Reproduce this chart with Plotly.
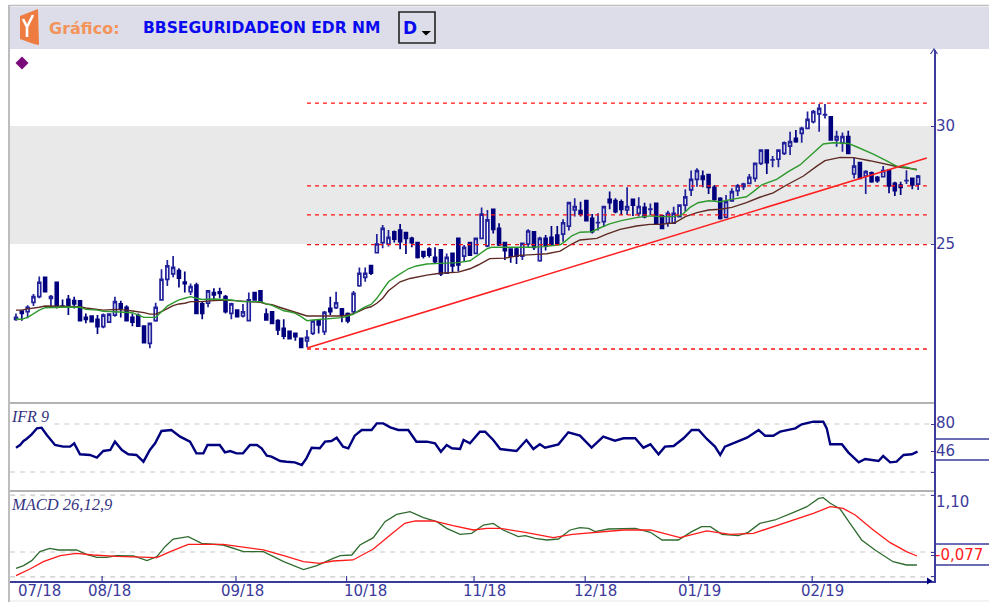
import plotly.graph_objects as go

# ---------- daily candles ----------
opens = [21.81,22.16,22.13,22.53,22.77,23.59,22.70,23.38,22.37,22.65,22.60,22.59,21.89,21.95,21.81,21.50,21.69,21.99,22.46,22.32,
21.89,21.98,21.52,20.79,21.75,22.63,23.50,23.73,23.87,23.39,22.98,23.26,22.46,22.49,22.94,22.97,22.77,22.06,22.20,21.95,
21.75,22.94,23.01,22.03,22.12,21.75,21.43,21.30,21.21,21.00,20.89,21.21,21.74,21.29,22.27,22.30,22.25,22.05,22.13,23.23,
23.59,24.08,24.63,25.06,25.00,25.52,25.59,25.48,25.24,25.06,24.68,24.78,24.43,24.75,23.76,24.60,25.24,24.49,25.06,24.60,
25.24,24.92,26.47,25.66,25.06,24.78,24.78,24.49,25.00,25.52,24.29,25.24,25.28,25.38,25.42,25.76,26.44,26.41,26.84,26.09,
25.90,25.95,26.89,26.84,26.79,26.44,26.89,26.30,26.55,26.47,26.72,26.19,25.88,25.88,26.16,26.65,27.29,27.74,27.88,27.94,
27.40,26.93,26.13,26.83,27.26,27.43,27.57,27.78,28.42,28.98,28.56,28.59,28.84,29.15,29.48,29.69,29.90,30.18,30.51,30.47,
30.39,29.41,29.29,29.55,27.97,28.45,27.88,28.02,27.82,27.85,28.13,27.57,27.50,27.68,27.78,27.54]
highs = [22.06,22.20,22.41,22.88,23.62,23.62,22.84,23.38,22.65,22.84,22.77,22.59,22.06,21.95,21.99,22.06,22.06,22.77,22.60,22.40,
22.06,22.06,21.52,21.67,22.51,23.93,24.32,24.49,23.97,23.83,23.33,23.36,22.56,23.02,23.12,23.15,22.84,22.51,22.20,22.46,
22.94,22.94,23.01,22.27,22.13,21.81,21.81,21.33,21.21,21.04,21.36,21.78,21.78,22.16,22.77,22.98,22.25,22.10,23.01,24.00,
24.00,24.11,25.42,25.81,25.59,25.57,25.85,25.48,25.31,25.06,24.68,24.86,24.86,24.75,24.60,24.60,25.24,24.96,25.06,25.24,
26.55,26.44,26.47,25.88,25.06,24.78,24.86,25.06,25.62,25.55,25.31,25.38,25.76,25.76,26.05,26.75,26.94,26.79,26.84,26.27,
26.30,26.58,27.22,26.94,26.89,27.40,26.89,26.98,26.75,26.72,26.72,26.23,26.41,26.58,26.65,27.32,28.11,28.21,28.11,27.94,
27.50,26.98,27.08,27.36,27.54,27.60,27.97,28.45,29.01,29.01,28.73,29.01,29.34,29.76,29.83,29.97,30.61,30.68,30.93,30.93,
30.39,29.80,29.72,29.80,28.67,28.45,28.13,28.07,27.88,28.30,28.16,27.64,27.64,28.13,27.82,27.92]
lows = [21.75,21.75,21.85,22.37,22.70,22.95,22.32,22.27,22.32,21.99,22.27,21.75,21.64,21.67,21.19,21.43,21.67,21.92,21.89,21.72,
21.52,21.50,20.79,20.58,21.71,22.60,23.22,23.59,23.16,22.94,22.84,22.03,21.81,22.32,22.63,22.70,22.06,21.81,21.92,21.89,
21.75,22.60,22.56,21.75,21.61,21.14,20.96,20.96,20.90,20.62,20.62,21.14,21.21,21.14,21.99,22.25,21.68,21.64,22.06,23.19,
23.40,23.69,24.60,24.82,24.89,25.06,24.78,24.58,24.86,24.39,24.39,24.43,24.18,23.64,23.73,23.81,23.83,24.25,24.53,24.58,
25.20,24.86,25.45,24.92,24.32,24.21,24.15,24.32,24.86,24.75,24.25,24.72,24.92,24.96,25.10,25.57,26.16,26.16,25.95,25.45,
25.57,25.73,26.47,26.30,26.23,26.23,26.19,26.16,26.09,26.23,25.81,25.62,25.73,25.85,26.13,26.37,27.03,27.43,27.40,27.12,
26.83,26.04,26.09,26.79,27.03,27.29,27.54,27.64,28.35,27.97,28.25,28.25,28.77,28.77,29.29,29.29,29.86,30.11,29.76,30.32,
29.38,29.12,28.91,28.81,27.78,27.74,27.12,27.60,27.60,27.82,27.15,27.03,27.08,27.54,27.32,27.29]
closes = [21.89,22.06,22.32,22.77,23.38,22.98,22.77,22.37,22.32,22.32,22.46,21.75,21.81,21.71,21.50,21.99,22.03,22.56,22.27,21.75,
21.69,21.52,20.82,21.64,22.32,23.50,24.07,24.01,23.55,23.32,23.19,22.06,22.06,23.01,22.84,22.91,22.13,22.46,21.92,22.13,
22.63,22.63,22.56,21.78,21.64,21.36,21.10,20.99,21.07,20.62,21.04,21.74,21.57,22.10,22.13,22.51,21.99,21.74,22.91,23.76,
23.76,23.76,25.00,25.66,25.28,25.21,25.10,25.24,25.06,24.43,24.49,24.53,24.25,23.73,24.43,24.07,24.11,24.86,24.53,25.24,
26.27,26.02,25.62,24.96,24.72,24.49,24.49,25.03,25.55,24.86,25.24,24.92,24.96,25.03,25.90,26.75,26.58,26.27,25.99,25.52,
25.91,26.58,26.75,26.37,26.47,26.58,26.65,26.58,26.16,26.48,25.88,25.66,26.30,26.30,26.65,27.00,27.74,28.11,27.74,27.40,
26.89,26.09,26.79,27.22,27.46,27.54,27.82,28.42,28.98,28.45,28.57,28.98,29.29,29.34,29.34,29.90,30.28,30.61,30.75,30.48,
29.41,29.55,29.55,28.84,28.30,27.78,28.07,27.64,27.68,28.11,27.46,27.26,27.40,27.69,27.50,27.88]
days = list(range(len(opens)))

# ---------- moving averages ----------
fast_ma_days = [0,1,2,3,4,5,7,9,11,12,14,15,17,19,20,21,22,23,24,25,26,27,28,29,30,31,32,34,36,37,38,39,42,43,44,45,46,47,48,49,50,51,53,54,56,57,58,59,60,61,62,63,64,
65.4,67.4,68.8,70.6,72.8,76,78,79.4,80.9,81.7,84,86.6,88.3,90.6,93.5,94.3,95.5,96.9,98.9,100.6,102,104,106.6,108.9,110.7,112.9,114.4,115.8,117.2,119,121,123,125.5,126.7,128.1,130.7,132.7,134.7,136.7,138.7,140.4,143,144.4,147.3,149.6,151.3,153,154.8]
fast_ma = [21.81,21.81,21.89,22.06,22.20,22.30,22.32,22.33,22.32,22.23,22.20,22.15,22.13,22.12,22.09,21.99,21.89,21.89,21.89,22.13,22.37,22.51,22.63,22.70,22.77,22.70,22.65,22.67,22.65,22.63,22.59,22.56,22.56,22.46,22.40,22.27,22.17,22.13,22.06,21.92,21.75,21.78,21.81,21.85,21.88,21.95,22.03,22.20,22.34,22.44,22.70,23.05,23.40,
23.64,23.95,24.07,24.15,24.18,24.21,24.29,24.53,24.79,24.86,24.86,24.83,24.86,24.89,24.97,25.10,25.35,25.50,25.52,25.71,25.85,25.99,26.12,26.19,26.16,26.16,26.23,26.55,26.75,26.83,26.79,26.89,27.00,27.22,27.50,27.74,28.07,28.35,28.81,29.24,29.29,29.26,29.12,28.81,28.52,28.30,28.25,28.13]
slow_ma_days = [0,1,2,3,4,5,7,9,11,12,14,15,17,18,19,20,21,22,23,24,25,26,27,28,29,30,32,34,36,38,40,42,43,44,45,46,47,48,49,50,51,53,54,56,57,58,59,60,61,62,63,
64,66,67.7,70.6,72.8,76,78,79.4,81.4,84,86.6,89.5,91.2,93.5,95.5,96.9,99.8,101.5,103.8,106.6,108.9,110.7,113.2,115,117,119,121,123,125.5,127.8,130.1,132.4,135.3,137.6,139,141.6,143.9,146.7,149.6,151.9,154.8]
slow_ma = [22.20,22.20,22.25,22.27,22.32,22.37,22.37,22.37,22.34,22.29,22.25,22.20,22.23,22.23,22.20,22.16,22.13,22.09,22.03,22.03,22.13,22.27,22.39,22.46,22.49,22.56,22.56,22.60,22.63,22.59,22.56,22.53,22.46,22.43,22.34,22.26,22.20,22.13,22.03,21.95,21.95,21.95,21.95,21.95,21.99,22.05,22.16,22.27,22.34,22.49,22.70,
23.02,23.40,23.54,23.68,23.76,23.81,23.95,24.11,24.38,24.40,24.52,24.56,24.59,24.70,25.00,25.17,25.24,25.42,25.62,25.76,25.83,25.83,25.90,26.16,26.33,26.44,26.47,26.55,26.75,26.98,27.17,27.50,27.88,28.30,28.53,28.67,28.66,28.53,28.39,28.25,28.16]

# ---------- drawn levels ----------
level_prices = [30.97, 27.46, 26.23, 24.97, 20.55]
level_days = [50, 156.5]
trend_days = [50, 156.5]
trend_prices = [20.59, 28.64]
band_prices = [25, 30]

# ---------- IFR 9 ----------
ifr_days = [0,0.7,1.3,1.8,2.7,3.6,4.4,5.3,6.7,8.1,9.3,10,11,12.7,13.9,15,16.2,17,18.2,19.3,20.7,21.9,23,23.9,25,26.7,28.2,29.9,31,32.2,32.9,35,35.9,36.8,37.9,39,40.2,41.4,42.2,43.1,43.9,45.4,46.5,47.9,49.1,49.9,50.8,52.2,53.1,54.2,55.1,56.2,57.1,58.2,59.4,61.1,62,63.1,64.3,65.7,67.4,68.8,70.6,72,73,74,74.9,76.3,76.9,78,79.7,80.6,82,83.2,
86,87.7,88.9,90,90.9,93.2,94.9,96.9,98.9,100.9,102.9,104.4,106.4,107.8,109,110.4,111.5,113,114.7,116.1,117.3,118.7,120.1,121,121.8,123.8,125.6,127.6,128.7,130.1,131.3,133.9,135,137,138.7,139.3,139.9,141.9,143,144.8,145.9,148.2,149,150.2,151.3,152.5,153.9,154.9]
ifr = [50.4,53.75,58.75,61.25,67.1,74.6,75.4,66.25,53.75,51.7,51.7,55.8,42.1,41.25,37.9,46.25,47.5,57.9,47.5,42.1,41.25,32.9,47.5,55.8,71.25,72.5,64.2,57.9,43.3,43.3,53.75,53.75,44.6,46.25,43.3,43.3,53.75,53.75,49.6,40.4,39.2,33.75,32.9,32.1,28.75,37.1,50.4,49.6,57.9,58.75,62.9,51.7,49.6,65.4,72.5,72.5,80.8,80.8,75.8,72.5,72.5,57.9,57.9,55.8,45.4,53.75,49.6,48.75,60,55.8,70.4,70.4,60,48.75,
46.25,60,48.75,54.6,50.4,54.6,69.6,65.4,50.4,64.2,59.2,62.1,62.1,50.4,54.6,42.1,51.7,52.5,62.1,72.5,72.5,61.25,51.7,41.25,51.7,57.9,62.9,72.5,65.4,65.4,70.4,74.6,79.6,82.9,82.9,74.6,54.6,54.6,44.6,32.1,36.25,33.75,40,32.1,32.9,41.25,42.1,45.4]

# ---------- MACD 26,12,9 ----------
macd_days = [0,1.3,2.7,4.1,5.8,7.3,10.4,12.1,13.9,15.6,17.3,20.2,22.5,24.2,25.6,27,29.6,31.9,35.6,39.1,42.5,46,49.4,51.7,54.5,55.7,57.7,59.1,61.4,63.4,65.4,67.7,70,72.3,74,76.3,78.3,80.3,82,
83.7,86.3,87.5,89.2,91.2,93.2,95.2,96.9,98.4,99.5,101.8,106.4,109,111,113.8,116.1,117.8,119.3,121.3,124.1,125.8,127.8,130.4,133.6,135.9,137.9,138.7,139.9,141.6,143.3,145.3,147.6,150.7,153,154.8]
macd = [-0.315,-0.264,-0.167,0.007,0.071,0.039,0.039,-0.045,-0.103,-0.103,-0.071,-0.077,-0.167,-0.090,0.103,0.251,0.296,0.167,0.135,0.007,0.007,-0.187,-0.341,-0.264,-0.122,-0.071,-0.058,0.135,0.277,0.586,0.727,0.779,0.663,0.586,0.457,0.341,0.361,0.521,0.553,
0.425,0.296,0.315,0.264,0.232,0.251,0.425,0.470,0.457,0.393,0.444,0.457,0.380,0.232,0.232,0.393,0.489,0.489,0.341,0.315,0.380,0.553,0.618,0.766,0.875,1.036,1.049,0.940,0.830,0.553,0.232,0.039,-0.187,-0.251,-0.251]
signal_days = [0,2.4,4.7,7.6,10.4,13.3,17.3,21.3,24.2,26.5,29.6,35.6,38.5,42.5,46,49.4,52.2,54.5,57.9,61.4,64.3,66.8,68.6,71.7,75.1,78.6,80.9,
83.2,87.5,92.3,95.6,100.3,104.4,109,114.1,118.7,122.7,126.7,130.1,133.6,137,139.9,142.1,144.2,147.3,150.2,153,154.8]
signal = [-0.457,-0.328,-0.187,-0.071,-0.026,-0.058,-0.084,-0.097,-0.109,0.007,0.148,0.148,0.103,0.039,-0.071,-0.187,-0.219,-0.174,-0.154,0.058,0.328,0.553,0.599,0.599,0.508,0.425,0.457,
0.457,0.380,0.277,0.341,0.393,0.425,0.425,0.277,0.406,0.341,0.361,0.489,0.618,0.747,0.875,0.843,0.714,0.425,0.180,0.007,-0.077]

# ---------- ticks and labels ----------
month_labels = ["07/18","08/18","09/18","10/18","11/18","12/18","01/19","02/19"]
month_label_days = [4.1,16.1,39,60,80.5,99.5,117.5,138.6]
month_tick_days = [14.8,37.8,56.8,78.7,97.8,115.6,136.8]
price_ticks = [25, 30]
price_labels = ["25", "30"]
ifr_ticks = [20, 46, 80]
macd_ticks = [-0.48, -0.077, 0, 1.10]
symbol_name = "BBSEGURIDADEON EDR NM"

# ---------- layout geometry and styling ----------
W, H = 989, 602
L, R, T, B = 10, 934, 50, 581
AX = "#3B3B9B"
FONT = "DejaVu Sans"
def px(x): return (x - L) / (R - L)
def py(y): return (B - y) / (B - T)
def dom(y0, y1): return [py(y1), py(y0)]
def path(points):
    return "M" + " L".join(f"{px(a):.5f},{py(b):.5f}" for a, b in points) + " Z"

fig = go.Figure()
fig.add_trace(go.Candlestick(x=days, open=opens, high=highs, low=lows, close=closes, yaxis="y",
    increasing=dict(line=dict(color="#20209A", width=1.7), fillcolor="white"),
    decreasing=dict(line=dict(color="#00007F", width=1.7), fillcolor="#00007F"),
    whiskerwidth=0, hoverinfo="skip"))
fig.add_trace(go.Scatter(x=slow_ma_days, y=slow_ma, mode="lines", line=dict(color="#5C2A22", width=1.4), yaxis="y"))
fig.add_trace(go.Scatter(x=fast_ma_days, y=fast_ma, mode="lines", line=dict(color="#2E9A2E", width=1.4), yaxis="y"))
for lv in level_prices:
    fig.add_trace(go.Scatter(x=level_days, y=[lv, lv], mode="lines", line=dict(color="#FF1010", width=1.3, dash="4px,4px"), yaxis="y"))
fig.add_trace(go.Scatter(x=trend_days, y=trend_prices, mode="lines", line=dict(color="#FF2020", width=1.5), yaxis="y"))

# indicator guide lines
for lv, x0 in [(80, 6.6), (20, -1)]:
    fig.add_trace(go.Scatter(x=[x0, 157.7], y=[lv, lv], mode="lines", line=dict(color="#C8C8C8", width=1.2, dash="5px,5px"), yaxis="y2"))
for lv in [1.10, 0, -0.48]:
    fig.add_trace(go.Scatter(x=[-1, 157.7], y=[lv, lv], mode="lines", line=dict(color="#C8C8C8", width=1.2, dash="5px,5px"), yaxis="y3"))
fig.add_trace(go.Scatter(x=ifr_days, y=ifr, mode="lines", line=dict(color="#00007F", width=2.4), yaxis="y2"))
fig.add_trace(go.Scatter(x=macd_days, y=macd, mode="lines", line=dict(color="#2F6B2F", width=1.3), yaxis="y3"))
fig.add_trace(go.Scatter(x=signal_days, y=signal, mode="lines", line=dict(color="#FF1A1A", width=1.3), yaxis="y3"))
fig.add_trace(go.Scatter(x=month_tick_days, y=[-0.56]*len(month_tick_days), mode="markers", yaxis="y3",
    marker=dict(symbol="line-ns", size=7, line=dict(color=AX, width=1.2))))

shapes = [
    dict(type="rect", xref="paper", yref="y", x0=0, x1=1, y0=band_prices[0], y1=band_prices[1], fillcolor="#E9E9E9", line_width=0, layer="below"),
    dict(type="rect", xref="paper", yref="paper", x0=px(10), x1=px(989), y0=py(49), y1=py(7), fillcolor="#DCDDE8", line_width=0, layer="below"),
    dict(type="line", xref="paper", yref="paper", x0=px(9), x1=px(9), y0=py(5), y1=py(602), line=dict(color="#BDBDBD", width=2)),
    dict(type="line", xref="paper", yref="paper", x0=px(8), x1=px(989), y0=py(5.5), y1=py(5.5), line=dict(color="#BDBDBD", width=1.5)),
    dict(type="line", xref="paper", yref="paper", x0=px(10), x1=px(989), y0=py(601), y1=py(601), line=dict(color="#E6E6E6", width=1)),
    dict(type="line", xref="paper", yref="paper", x0=0, x1=1, y0=py(403), y1=py(403), line=dict(color="#999999", width=1.5)),
    dict(type="line", xref="paper", yref="paper", x0=0, x1=1, y0=py(491), y1=py(491), line=dict(color="#999999", width=1.5)),
    # logo
    dict(type="path", xref="paper", yref="paper", path=path([(20,16),(38,9),(39,45),(34,44),(20,39)]), fillcolor="#EE7B3F", line_width=0),
    dict(type="path", xref="paper", yref="paper", path="M%.5f,%.5f L%.5f,%.5f L%.5f,%.5f L%.5f,%.5f M%.5f,%.5f L%.5f,%.5f" % (px(23),py(19),px(27),py(27),px(27),py(37),px(27),py(27),px(33),py(15),px(27),py(27)), line=dict(color="#FFFFFF", width=2.6)),
    # period selector
    dict(type="rect", xref="paper", yref="paper", x0=px(399), x1=px(435), y0=py(43), y1=py(12), line=dict(color="#222222", width=1.6), fillcolor="rgba(0,0,0,0)"),
    dict(type="path", xref="paper", yref="paper", path=path([(421.5,31),(431,31),(426,35.5)]), fillcolor="#000000", line_width=0),
    # purple marker
    dict(type="path", xref="paper", yref="paper", path=path([(22,56.5),(28.5,63),(22,69.5),(15.5,63)]), fillcolor="#7A0A7A", line_width=0),
    # boxes round the last values
    *[dict(type="line", xref="paper", yref="paper", x0=1, x1=px(989), y0=py(v), y1=py(v), line=dict(color=AX, width=1.5)) for v in (439, 460, 544, 565)],
    # axis arrows
    dict(type="path", xref="paper", yref="paper", path=path([(927,577.5),(932.5,581),(927,584.5)]), fillcolor="#00007F", line_width=0),
    dict(type="path", xref="paper", yref="paper", path="M%.5f,%.5f L%.5f,%.5f L%.5f,%.5f" % (px(930.5),py(54),px(934),py(49),px(937.5),py(54)), line=dict(color=AX, width=1.2)),
]

def note(x, y, text, size, color, family=FONT, bold=False, italic=False):
    t = text
    if bold: t = f"<b>{t}</b>"
    if italic: t = f"<i>{t}</i>"
    return dict(xref="paper", yref="paper", x=px(x), y=py(y), text=t, showarrow=False, xanchor="left", yanchor="middle",
                align="left", font=dict(size=size, color=color, family=family))

annotations = [
    note(47, 28, "Gráfico:", 16, "#F4935A", bold=True),
    note(141, 28, symbol_name, 15.5, "#0A0AF0", bold=True),
    note(401, 28, "D", 17, "#0A0AF0", bold=True),
    note(9, 416, "IFR 9", 16, "#33337F", family="Liberation Serif", italic=True),
    note(9, 504, "MACD 26,12,9", 16.5, "#33337F", family="Liberation Serif", italic=True),
    note(934, 502, "1,10", 15, AX),
    note(933, 555, "-0,077", 15, "#FF1A1A"),
    note(934, 423, "80", 15, AX),
    note(934, 451, "46", 15, AX),
]
for v, lab in zip(price_ticks, price_labels):
    annotations.append(dict(xref="paper", yref="y", x=px(934), y=v, text=lab, showarrow=False, xanchor="left", yanchor="middle",
                            font=dict(size=15, color=AX, family=FONT)))
for d, lab in zip(month_label_days, month_labels):
    annotations.append(dict(xref="x", yref="paper", x=d, y=py(591), text=lab, showarrow=False, xanchor="center", yanchor="middle",
                            font=dict(size=15, color=AX, family=FONT)))

fig.update_layout(
    width=W, height=H, autosize=False, showlegend=False, hovermode=False,
    margin=dict(l=L, r=W-R, t=T, b=H-B, pad=0),
    paper_bgcolor="white", plot_bgcolor="rgba(0,0,0,0)",
    shapes=shapes, annotations=annotations,
    font=dict(family=FONT, size=15, color=AX),
    xaxis=dict(domain=[0,1], anchor="y3", range=[-1.03, 157.73], showgrid=False, zeroline=False, fixedrange=True,
               rangeslider=dict(visible=False), showticklabels=False, ticks="", showline=True, linecolor=AX, linewidth=1.5, automargin=False),
    yaxis=dict(domain=dom(50, 403), anchor="x", side="right", range=[18.263, 33.220], showgrid=False, zeroline=False, fixedrange=True,
               tickmode="array", tickvals=price_ticks, ticktext=[""]*2, ticks="inside", ticklen=3, tickcolor=AX, showline=True, linecolor=AX, linewidth=1.5,
               automargin=False),
    yaxis2=dict(domain=dom(403, 491), anchor="x", side="right", range=[-3.75, 106.25], showgrid=False, zeroline=False, fixedrange=True,
               tickmode="array", tickvals=ifr_ticks, ticktext=[""]*3, ticks="inside", ticklen=3, tickcolor=AX, showline=True, linecolor=AX, linewidth=1.5,
               automargin=False),
    yaxis3=dict(domain=dom(491, 581), anchor="x", side="right", range=[-0.56, 1.178], showgrid=False, zeroline=False, fixedrange=True,
               tickmode="array", tickvals=macd_ticks, ticktext=[""]*4, ticks="inside", ticklen=3, tickcolor=AX, showline=True, linecolor=AX, linewidth=1.5,
               automargin=False),
)
fig.write_html("out.html", config={"displayModeBar": False},
               post_script="document.body.style.margin='0';document.body.style.overflow='hidden';")
